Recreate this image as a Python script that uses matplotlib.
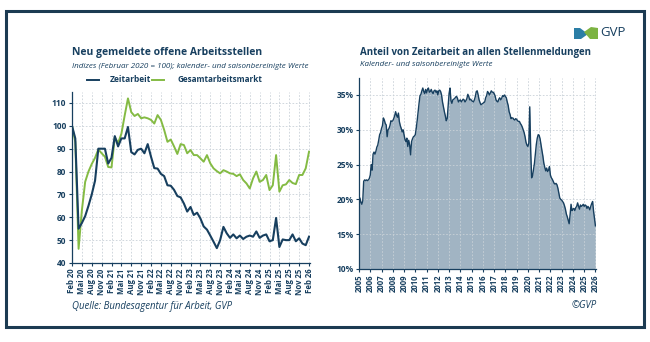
import matplotlib as mp
import matplotlib.pyplot as plt
from matplotlib.patches import Rectangle, Polygon
import numpy as np

NAVY = '#173f5f'
GREEN = '#84bb44'
GRID = '#c9d1d8'

plt.rcParams['font.family'] = ['Open Sans', 'DejaVu Sans']

# --- left chart: monthly index, Feb 2020 .. Feb 2026 (Feb 2020 = 100)
zeitarbeit = [100, 94.5, 55, 57.5, 60.5, 65, 70, 76, 90, 90, 90, 83.5,
              86, 95.5, 91, 94.5, 94.5, 99.5, 88.5, 87.5, 89.5, 90, 88, 92,
              86.5, 81.5, 81.3, 79, 78, 74, 73.8, 72, 69.3, 68.7, 66, 62.5,
              64.5, 61, 62, 59.5, 56, 54.6, 52, 49.3, 46.5, 50, 55.8, 53,
              51, 52.5, 50.8, 52, 50.5, 51.5, 52, 51.5, 53.8, 51, 52, 52.5,
              49.5, 50, 59.7, 47, 50.3, 50, 50, 52.5, 49.5, 50.8, 48.5, 47.8,
              51.5]
gesamt = [100, 93, 46.2, 63, 75.5, 80, 83.3, 86, 89.7, 88, 86.5, 82,
          81.8, 95, 92.5, 96.5, 104.5, 112, 106, 104.3, 105.2, 103.3, 103.7, 103.3,
          102.6, 101, 104.7, 102.6, 98.2, 93, 94, 91, 87.7, 92, 91.6, 88,
          89.4, 87.2, 87.2, 85.8, 84.3, 87.2, 83.6, 81.4, 80.2, 79.2, 80.6, 80,
          79.2, 79, 78, 78.8, 76.3, 74.8, 72.6, 77, 80, 75.5, 76.3, 78.5,
          71.9, 74, 87.2, 71.2, 74, 74.4, 76.3, 75, 74.5, 78.5, 78.5, 81.4,
          88.7]
month_names = ['Feb', 'Mai', 'Aug', 'Nov']
left_ticklabels = [f'{month_names[k % 4]} {20 + k // 4}' for k in range(25)]

# --- right chart: share of temp work in all job postings, Jan 2005 .. Jan 2026 (%)
anteil = [
    19.0, 20.2, 19.6, 19.3, 19.8, 22.6, 22.8, 22.7, 22.8, 22.7, 22.8, 23.0,   # 2005
    23.5, 25.0, 24.2, 26.5, 26.8, 26.5, 26.9, 27.5, 27.8, 28.5, 29.3, 29.6,   # 2006
    30.2, 30.6, 31.7, 31.4, 30.9, 30.7, 29.0, 30.0, 30.2, 30.6, 31.3, 31.2,   # 2007
    31.3, 31.6, 32.0, 32.6, 32.1, 31.8, 32.4, 31.2, 30.6, 30.2, 29.7, 30.0,   # 2008
    29.3, 28.6, 28.3, 28.8, 27.6, 28.5, 27.8, 26.4, 28.3, 28.7, 29.0, 29.1,   # 2009
    29.3, 30.2, 31.3, 32.6, 33.8, 34.9, 35.1, 35.6, 36.0, 35.5, 35.2, 35.8,   # 2010
    35.3, 35.8, 36.0, 35.4, 35.5, 35.8, 35.4, 35.2, 35.6, 35.7, 35.4, 35.6,   # 2011
    35.0, 35.6, 35.7, 35.5, 35.0, 34.0, 33.3, 32.6, 32.0, 31.3, 31.6, 33.5,   # 2012
    35.2, 36.0, 34.2, 33.8, 34.3, 34.4, 34.5, 34.7, 34.8, 34.5, 34.0, 34.2,   # 2013
    34.3, 34.0, 34.2, 34.4, 34.3, 34.0, 34.2, 34.5, 35.1, 34.8, 34.3, 34.4,   # 2014
    34.2, 34.1, 34.0, 34.3, 34.8, 35.5, 35.6, 35.0, 34.3, 33.9, 33.6, 33.7,   # 2015
    33.8, 33.9, 34.0, 34.6, 34.9, 35.5, 35.3, 35.0, 35.3, 35.6, 35.4, 35.4,   # 2016
    35.2, 34.9, 34.3, 34.1, 34.0, 34.4, 34.6, 34.3, 34.5, 34.9, 34.8, 35.0,   # 2017
    34.8, 34.6, 34.0, 33.5, 32.6, 32.2, 31.6, 31.7, 31.7, 31.5, 31.4, 31.6,   # 2018
    31.5, 31.3, 31.2, 31.2, 30.9, 30.7, 30.4, 30.0, 29.6, 29.0, 28.2, 27.8,   # 2019
    27.6, 28.1, 33.3, 27.0, 23.1, 23.4, 24.3, 25.2, 26.6, 27.9, 28.8, 29.3,   # 2020
    29.2, 28.7, 27.8, 27.0, 26.2, 25.2, 24.6, 24.1, 24.5, 24.0, 24.2, 24.7,   # 2021
    23.5, 23.1, 22.9, 22.6, 22.3, 22.2, 22.3, 22.1, 21.6, 20.9, 20.2, 20.0,   # 2022
    19.9, 19.7, 19.5, 19.1, 18.6, 17.9, 17.5, 17.0, 16.5, 17.8, 19.3, 18.4,   # 2023
    18.6, 18.7, 18.4, 18.8, 19.0, 19.5, 19.0, 18.6, 19.2, 19.0, 19.1, 19.3,   # 2024
    19.0, 19.2, 19.1, 18.7, 19.0, 18.8, 18.5, 19.0, 19.4, 19.7, 18.3, 17.2,   # 2025
    16.2,                                                                   # 2026
]
years = list(range(2005, 2027))
pct_ticks = [10, 15, 20, 25, 30, 35]


def style_axes(ax):
    for s in ['top', 'right']:
        ax.spines[s].set_visible(False)
    for s in ['left', 'bottom']:
        ax.spines[s].set_color(NAVY)
        ax.spines[s].set_linewidth(0.9)
    ax.tick_params(colors=NAVY, length=2.5, width=0.8, labelsize=5.6, pad=1.5)
    for lab in ax.get_xticklabels() + ax.get_yticklabels():
        lab.set_fontweight('bold')
    ax.grid(True, color=GRID, linestyle=(0, (2, 2)), linewidth=0.6)


fig = plt.figure(figsize=(6.5, 3.42), dpi=100)
fig.patch.set_facecolor('white')

# outer frame
fig.add_artist(Rectangle((6 / 650, 1 - 326.5 / 342), 637.5 / 650, 315.5 / 342,
                         transform=fig.transFigure, fill=False,
                         edgecolor='#1c3b52', linewidth=2.2))

# ---------- left chart
ax1 = fig.add_axes([72 / 650, 79 / 342, 238 / 650, 171 / 342])
x1 = np.arange(len(zeitarbeit))
ax1.plot(x1, gesamt, color=GREEN, lw=1.4)
ax1.plot(x1, zeitarbeit, color=NAVY, lw=1.5)
ax1.set_xlim(0, 72.3)
ax1.set_ylim(40, 114.8)
ax1.set_yticks(range(40, 111, 10))
ax1.set_xticks(np.arange(0, 73, 3))
ax1.set_xticklabels(left_ticklabels, rotation=90)
style_axes(ax1)
ax1.tick_params(axis='y', labelsize=6.0)

fig.text(72 / 650, 1 - 52 / 342, 'Neu gemeldete offene Arbeitsstellen',
         fontsize=7.5, fontweight='bold', color=NAVY, va='center')
fig.text(72 / 650, 1 - 66 / 342,
         'Indizes (Februar 2020 = 100); kalender- und saisonbereinigte Werte',
         fontsize=5.8, style='italic', color=NAVY, va='center')
# legend
fig.add_artist(plt.Line2D([87 / 650, 99 / 650], [1 - 80 / 342] * 2, color=NAVY, lw=1.4))
fig.text(110 / 650, 1 - 80 / 342, 'Zeitarbeit', fontsize=6.0, fontweight='bold',
         color=NAVY, va='center')
fig.add_artist(plt.Line2D([152 / 650, 164 / 650], [1 - 80 / 342] * 2, color=GREEN, lw=1.4))
fig.text(178 / 650, 1 - 80 / 342, 'Gesamtarbeitsmarkt', fontsize=5.9, fontweight='bold',
         color=NAVY, va='center')
fig.text(72 / 650, 1 - 307 / 342, 'Quelle: Bundesagentur für Arbeit, GVP',
         fontsize=6.9, style='italic', color=NAVY, va='center')

# ---------- right chart
ax2 = fig.add_axes([359 / 650, 73 / 342, 237 / 650, 191 / 342])
x2 = 2005 + np.arange(len(anteil)) / 12
ax2.fill_between(x2, 10, anteil, color='#1f4e70', alpha=0.42, lw=0)
ax2.plot(x2, anteil, color=NAVY, lw=1.0)
ax2.set_xlim(2005, 2026.05)
ax2.set_ylim(10, 37.44)
ax2.set_yticks(pct_ticks)
ax2.set_yticklabels([f'{v}%' for v in pct_ticks])
ax2.set_xticks(years)
ax2.set_xticklabels([str(y) for y in years], rotation=90)
style_axes(ax2)
ax2.tick_params(axis='y', labelsize=6.0)

fig.text(360 / 650, 1 - 52 / 342, 'Anteil von Zeitarbeit an allen Stellenmeldungen',
         fontsize=7.05, fontweight='bold', color=NAVY, va='center')
fig.text(360 / 650, 1 - 64 / 342, 'Kalender- und saisonbereinigte Werte',
         fontsize=5.8, style='italic', color=NAVY, va='center')
fig.text(597 / 650, 1 - 305 / 342, '©GVP', fontsize=6.9, style='italic',
         color=NAVY, va='center', ha='right')

# ---------- logo
def fpt(px, py):
    return (px / 650, 1 - py / 342)

fig.add_artist(Polygon([fpt(574, 28), fpt(580, 28), fpt(588, 34), fpt(581, 39),
                        fpt(574, 39)], closed=True, transform=fig.transFigure,
                       color='#2b7ea6', lw=0))
fig.add_artist(Polygon([fpt(584, 32), fpt(591, 27), fpt(598, 28), fpt(598, 39),
                        fpt(590, 39)], closed=True, transform=fig.transFigure,
                       color='#7cb342', lw=0))
fig.text(600 / 650, 1 - 33 / 342, 'GVP', fontsize=9.5, color=NAVY, va='center')

plt.savefig('out.png', dpi=100)
